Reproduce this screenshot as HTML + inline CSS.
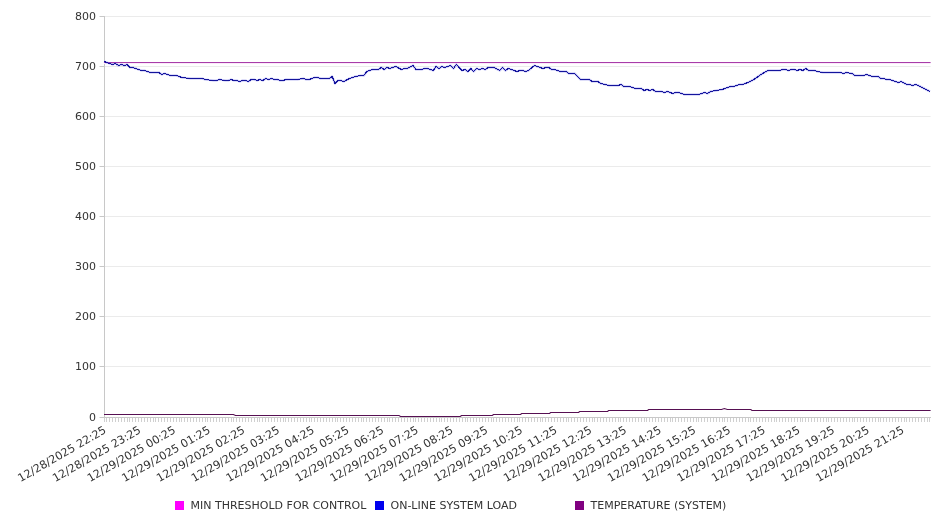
<!DOCTYPE html>
<html><head><meta charset="utf-8"><style>
html,body{margin:0;padding:0;background:#fff;width:946px;height:526px;overflow:hidden}
svg{display:block;will-change:transform}
.t{font-family:"DejaVu Sans","Liberation Sans",sans-serif;font-size:11px;fill:#333}
</style></head><body>

<svg width="946" height="526" viewBox="0 0 946 526">
<rect width="946" height="526" fill="#fff"/>
<line x1="104" y1="16.5" x2="930.6" y2="16.5" stroke="#ebebeb" stroke-width="1"/>
<line x1="104" y1="66.5" x2="930.6" y2="66.5" stroke="#ebebeb" stroke-width="1"/>
<line x1="104" y1="116.5" x2="930.6" y2="116.5" stroke="#ebebeb" stroke-width="1"/>
<line x1="104" y1="166.5" x2="930.6" y2="166.5" stroke="#ebebeb" stroke-width="1"/>
<line x1="104" y1="216.5" x2="930.6" y2="216.5" stroke="#ebebeb" stroke-width="1"/>
<line x1="104" y1="266.5" x2="930.6" y2="266.5" stroke="#ebebeb" stroke-width="1"/>
<line x1="104" y1="316.5" x2="930.6" y2="316.5" stroke="#ebebeb" stroke-width="1"/>
<line x1="104" y1="366.5" x2="930.6" y2="366.5" stroke="#ebebeb" stroke-width="1"/>
<line x1="99.5" y1="16.5" x2="104" y2="16.5" stroke="#c8c8c8" stroke-width="1"/>
<line x1="99.5" y1="66.5" x2="104" y2="66.5" stroke="#c8c8c8" stroke-width="1"/>
<line x1="99.5" y1="116.5" x2="104" y2="116.5" stroke="#c8c8c8" stroke-width="1"/>
<line x1="99.5" y1="166.5" x2="104" y2="166.5" stroke="#c8c8c8" stroke-width="1"/>
<line x1="99.5" y1="216.5" x2="104" y2="216.5" stroke="#c8c8c8" stroke-width="1"/>
<line x1="99.5" y1="266.5" x2="104" y2="266.5" stroke="#c8c8c8" stroke-width="1"/>
<line x1="99.5" y1="316.5" x2="104" y2="316.5" stroke="#c8c8c8" stroke-width="1"/>
<line x1="99.5" y1="366.5" x2="104" y2="366.5" stroke="#c8c8c8" stroke-width="1"/>
<line x1="99.5" y1="417.5" x2="104" y2="417.5" stroke="#c8c8c8" stroke-width="1"/>
<line x1="104.5" y1="16" x2="104.5" y2="418" stroke="#c8c8c8" stroke-width="1"/>
<line x1="104" y1="417.5" x2="931" y2="417.5" stroke="#c8c8c8" stroke-width="1"/>
<line x1="104.5" y1="418" x2="104.5" y2="422" stroke="#d0d0d0" stroke-width="1"/>
<line x1="106.5" y1="418" x2="106.5" y2="422" stroke="#d0d0d0" stroke-width="1"/>
<line x1="109.5" y1="418" x2="109.5" y2="422" stroke="#d0d0d0" stroke-width="1"/>
<line x1="112.5" y1="418" x2="112.5" y2="422" stroke="#d0d0d0" stroke-width="1"/>
<line x1="115.5" y1="418" x2="115.5" y2="422" stroke="#d0d0d0" stroke-width="1"/>
<line x1="118.5" y1="418" x2="118.5" y2="422" stroke="#d0d0d0" stroke-width="1"/>
<line x1="121.5" y1="418" x2="121.5" y2="422" stroke="#d0d0d0" stroke-width="1"/>
<line x1="124.5" y1="418" x2="124.5" y2="422" stroke="#d0d0d0" stroke-width="1"/>
<line x1="127.5" y1="418" x2="127.5" y2="422" stroke="#d0d0d0" stroke-width="1"/>
<line x1="129.5" y1="418" x2="129.5" y2="422" stroke="#d0d0d0" stroke-width="1"/>
<line x1="132.5" y1="418" x2="132.5" y2="422" stroke="#d0d0d0" stroke-width="1"/>
<line x1="135.5" y1="418" x2="135.5" y2="422" stroke="#d0d0d0" stroke-width="1"/>
<line x1="138.5" y1="418" x2="138.5" y2="422" stroke="#d0d0d0" stroke-width="1"/>
<line x1="141.5" y1="418" x2="141.5" y2="422" stroke="#d0d0d0" stroke-width="1"/>
<line x1="144.5" y1="418" x2="144.5" y2="422" stroke="#d0d0d0" stroke-width="1"/>
<line x1="147.5" y1="418" x2="147.5" y2="422" stroke="#d0d0d0" stroke-width="1"/>
<line x1="150.5" y1="418" x2="150.5" y2="422" stroke="#d0d0d0" stroke-width="1"/>
<line x1="153.5" y1="418" x2="153.5" y2="422" stroke="#d0d0d0" stroke-width="1"/>
<line x1="155.5" y1="418" x2="155.5" y2="422" stroke="#d0d0d0" stroke-width="1"/>
<line x1="158.5" y1="418" x2="158.5" y2="422" stroke="#d0d0d0" stroke-width="1"/>
<line x1="161.5" y1="418" x2="161.5" y2="422" stroke="#d0d0d0" stroke-width="1"/>
<line x1="164.5" y1="418" x2="164.5" y2="422" stroke="#d0d0d0" stroke-width="1"/>
<line x1="167.5" y1="418" x2="167.5" y2="422" stroke="#d0d0d0" stroke-width="1"/>
<line x1="170.5" y1="418" x2="170.5" y2="422" stroke="#d0d0d0" stroke-width="1"/>
<line x1="173.5" y1="418" x2="173.5" y2="422" stroke="#d0d0d0" stroke-width="1"/>
<line x1="176.5" y1="418" x2="176.5" y2="422" stroke="#d0d0d0" stroke-width="1"/>
<line x1="179.5" y1="418" x2="179.5" y2="422" stroke="#d0d0d0" stroke-width="1"/>
<line x1="181.5" y1="418" x2="181.5" y2="422" stroke="#d0d0d0" stroke-width="1"/>
<line x1="184.5" y1="418" x2="184.5" y2="422" stroke="#d0d0d0" stroke-width="1"/>
<line x1="187.5" y1="418" x2="187.5" y2="422" stroke="#d0d0d0" stroke-width="1"/>
<line x1="190.5" y1="418" x2="190.5" y2="422" stroke="#d0d0d0" stroke-width="1"/>
<line x1="193.5" y1="418" x2="193.5" y2="422" stroke="#d0d0d0" stroke-width="1"/>
<line x1="196.5" y1="418" x2="196.5" y2="422" stroke="#d0d0d0" stroke-width="1"/>
<line x1="199.5" y1="418" x2="199.5" y2="422" stroke="#d0d0d0" stroke-width="1"/>
<line x1="202.5" y1="418" x2="202.5" y2="422" stroke="#d0d0d0" stroke-width="1"/>
<line x1="205.5" y1="418" x2="205.5" y2="422" stroke="#d0d0d0" stroke-width="1"/>
<line x1="207.5" y1="418" x2="207.5" y2="422" stroke="#d0d0d0" stroke-width="1"/>
<line x1="210.5" y1="418" x2="210.5" y2="422" stroke="#d0d0d0" stroke-width="1"/>
<line x1="213.5" y1="418" x2="213.5" y2="422" stroke="#d0d0d0" stroke-width="1"/>
<line x1="216.5" y1="418" x2="216.5" y2="422" stroke="#d0d0d0" stroke-width="1"/>
<line x1="219.5" y1="418" x2="219.5" y2="422" stroke="#d0d0d0" stroke-width="1"/>
<line x1="222.5" y1="418" x2="222.5" y2="422" stroke="#d0d0d0" stroke-width="1"/>
<line x1="225.5" y1="418" x2="225.5" y2="422" stroke="#d0d0d0" stroke-width="1"/>
<line x1="228.5" y1="418" x2="228.5" y2="422" stroke="#d0d0d0" stroke-width="1"/>
<line x1="231.5" y1="418" x2="231.5" y2="422" stroke="#d0d0d0" stroke-width="1"/>
<line x1="233.5" y1="418" x2="233.5" y2="422" stroke="#d0d0d0" stroke-width="1"/>
<line x1="236.5" y1="418" x2="236.5" y2="422" stroke="#d0d0d0" stroke-width="1"/>
<line x1="239.5" y1="418" x2="239.5" y2="422" stroke="#d0d0d0" stroke-width="1"/>
<line x1="242.5" y1="418" x2="242.5" y2="422" stroke="#d0d0d0" stroke-width="1"/>
<line x1="245.5" y1="418" x2="245.5" y2="422" stroke="#d0d0d0" stroke-width="1"/>
<line x1="248.5" y1="418" x2="248.5" y2="422" stroke="#d0d0d0" stroke-width="1"/>
<line x1="251.5" y1="418" x2="251.5" y2="422" stroke="#d0d0d0" stroke-width="1"/>
<line x1="254.5" y1="418" x2="254.5" y2="422" stroke="#d0d0d0" stroke-width="1"/>
<line x1="257.5" y1="418" x2="257.5" y2="422" stroke="#d0d0d0" stroke-width="1"/>
<line x1="259.5" y1="418" x2="259.5" y2="422" stroke="#d0d0d0" stroke-width="1"/>
<line x1="262.5" y1="418" x2="262.5" y2="422" stroke="#d0d0d0" stroke-width="1"/>
<line x1="265.5" y1="418" x2="265.5" y2="422" stroke="#d0d0d0" stroke-width="1"/>
<line x1="268.5" y1="418" x2="268.5" y2="422" stroke="#d0d0d0" stroke-width="1"/>
<line x1="271.5" y1="418" x2="271.5" y2="422" stroke="#d0d0d0" stroke-width="1"/>
<line x1="274.5" y1="418" x2="274.5" y2="422" stroke="#d0d0d0" stroke-width="1"/>
<line x1="277.5" y1="418" x2="277.5" y2="422" stroke="#d0d0d0" stroke-width="1"/>
<line x1="280.5" y1="418" x2="280.5" y2="422" stroke="#d0d0d0" stroke-width="1"/>
<line x1="283.5" y1="418" x2="283.5" y2="422" stroke="#d0d0d0" stroke-width="1"/>
<line x1="285.5" y1="418" x2="285.5" y2="422" stroke="#d0d0d0" stroke-width="1"/>
<line x1="288.5" y1="418" x2="288.5" y2="422" stroke="#d0d0d0" stroke-width="1"/>
<line x1="291.5" y1="418" x2="291.5" y2="422" stroke="#d0d0d0" stroke-width="1"/>
<line x1="294.5" y1="418" x2="294.5" y2="422" stroke="#d0d0d0" stroke-width="1"/>
<line x1="297.5" y1="418" x2="297.5" y2="422" stroke="#d0d0d0" stroke-width="1"/>
<line x1="300.5" y1="418" x2="300.5" y2="422" stroke="#d0d0d0" stroke-width="1"/>
<line x1="303.5" y1="418" x2="303.5" y2="422" stroke="#d0d0d0" stroke-width="1"/>
<line x1="306.5" y1="418" x2="306.5" y2="422" stroke="#d0d0d0" stroke-width="1"/>
<line x1="309.5" y1="418" x2="309.5" y2="422" stroke="#d0d0d0" stroke-width="1"/>
<line x1="311.5" y1="418" x2="311.5" y2="422" stroke="#d0d0d0" stroke-width="1"/>
<line x1="314.5" y1="418" x2="314.5" y2="422" stroke="#d0d0d0" stroke-width="1"/>
<line x1="317.5" y1="418" x2="317.5" y2="422" stroke="#d0d0d0" stroke-width="1"/>
<line x1="320.5" y1="418" x2="320.5" y2="422" stroke="#d0d0d0" stroke-width="1"/>
<line x1="323.5" y1="418" x2="323.5" y2="422" stroke="#d0d0d0" stroke-width="1"/>
<line x1="326.5" y1="418" x2="326.5" y2="422" stroke="#d0d0d0" stroke-width="1"/>
<line x1="329.5" y1="418" x2="329.5" y2="422" stroke="#d0d0d0" stroke-width="1"/>
<line x1="332.5" y1="418" x2="332.5" y2="422" stroke="#d0d0d0" stroke-width="1"/>
<line x1="335.5" y1="418" x2="335.5" y2="422" stroke="#d0d0d0" stroke-width="1"/>
<line x1="337.5" y1="418" x2="337.5" y2="422" stroke="#d0d0d0" stroke-width="1"/>
<line x1="340.5" y1="418" x2="340.5" y2="422" stroke="#d0d0d0" stroke-width="1"/>
<line x1="343.5" y1="418" x2="343.5" y2="422" stroke="#d0d0d0" stroke-width="1"/>
<line x1="346.5" y1="418" x2="346.5" y2="422" stroke="#d0d0d0" stroke-width="1"/>
<line x1="349.5" y1="418" x2="349.5" y2="422" stroke="#d0d0d0" stroke-width="1"/>
<line x1="352.5" y1="418" x2="352.5" y2="422" stroke="#d0d0d0" stroke-width="1"/>
<line x1="355.5" y1="418" x2="355.5" y2="422" stroke="#d0d0d0" stroke-width="1"/>
<line x1="358.5" y1="418" x2="358.5" y2="422" stroke="#d0d0d0" stroke-width="1"/>
<line x1="361.5" y1="418" x2="361.5" y2="422" stroke="#d0d0d0" stroke-width="1"/>
<line x1="363.5" y1="418" x2="363.5" y2="422" stroke="#d0d0d0" stroke-width="1"/>
<line x1="366.5" y1="418" x2="366.5" y2="422" stroke="#d0d0d0" stroke-width="1"/>
<line x1="369.5" y1="418" x2="369.5" y2="422" stroke="#d0d0d0" stroke-width="1"/>
<line x1="372.5" y1="418" x2="372.5" y2="422" stroke="#d0d0d0" stroke-width="1"/>
<line x1="375.5" y1="418" x2="375.5" y2="422" stroke="#d0d0d0" stroke-width="1"/>
<line x1="378.5" y1="418" x2="378.5" y2="422" stroke="#d0d0d0" stroke-width="1"/>
<line x1="381.5" y1="418" x2="381.5" y2="422" stroke="#d0d0d0" stroke-width="1"/>
<line x1="384.5" y1="418" x2="384.5" y2="422" stroke="#d0d0d0" stroke-width="1"/>
<line x1="387.5" y1="418" x2="387.5" y2="422" stroke="#d0d0d0" stroke-width="1"/>
<line x1="389.5" y1="418" x2="389.5" y2="422" stroke="#d0d0d0" stroke-width="1"/>
<line x1="392.5" y1="418" x2="392.5" y2="422" stroke="#d0d0d0" stroke-width="1"/>
<line x1="395.5" y1="418" x2="395.5" y2="422" stroke="#d0d0d0" stroke-width="1"/>
<line x1="398.5" y1="418" x2="398.5" y2="422" stroke="#d0d0d0" stroke-width="1"/>
<line x1="401.5" y1="418" x2="401.5" y2="422" stroke="#d0d0d0" stroke-width="1"/>
<line x1="404.5" y1="418" x2="404.5" y2="422" stroke="#d0d0d0" stroke-width="1"/>
<line x1="407.5" y1="418" x2="407.5" y2="422" stroke="#d0d0d0" stroke-width="1"/>
<line x1="410.5" y1="418" x2="410.5" y2="422" stroke="#d0d0d0" stroke-width="1"/>
<line x1="413.5" y1="418" x2="413.5" y2="422" stroke="#d0d0d0" stroke-width="1"/>
<line x1="415.5" y1="418" x2="415.5" y2="422" stroke="#d0d0d0" stroke-width="1"/>
<line x1="418.5" y1="418" x2="418.5" y2="422" stroke="#d0d0d0" stroke-width="1"/>
<line x1="421.5" y1="418" x2="421.5" y2="422" stroke="#d0d0d0" stroke-width="1"/>
<line x1="424.5" y1="418" x2="424.5" y2="422" stroke="#d0d0d0" stroke-width="1"/>
<line x1="427.5" y1="418" x2="427.5" y2="422" stroke="#d0d0d0" stroke-width="1"/>
<line x1="430.5" y1="418" x2="430.5" y2="422" stroke="#d0d0d0" stroke-width="1"/>
<line x1="433.5" y1="418" x2="433.5" y2="422" stroke="#d0d0d0" stroke-width="1"/>
<line x1="436.5" y1="418" x2="436.5" y2="422" stroke="#d0d0d0" stroke-width="1"/>
<line x1="439.5" y1="418" x2="439.5" y2="422" stroke="#d0d0d0" stroke-width="1"/>
<line x1="441.5" y1="418" x2="441.5" y2="422" stroke="#d0d0d0" stroke-width="1"/>
<line x1="444.5" y1="418" x2="444.5" y2="422" stroke="#d0d0d0" stroke-width="1"/>
<line x1="447.5" y1="418" x2="447.5" y2="422" stroke="#d0d0d0" stroke-width="1"/>
<line x1="450.5" y1="418" x2="450.5" y2="422" stroke="#d0d0d0" stroke-width="1"/>
<line x1="453.5" y1="418" x2="453.5" y2="422" stroke="#d0d0d0" stroke-width="1"/>
<line x1="456.5" y1="418" x2="456.5" y2="422" stroke="#d0d0d0" stroke-width="1"/>
<line x1="459.5" y1="418" x2="459.5" y2="422" stroke="#d0d0d0" stroke-width="1"/>
<line x1="462.5" y1="418" x2="462.5" y2="422" stroke="#d0d0d0" stroke-width="1"/>
<line x1="465.5" y1="418" x2="465.5" y2="422" stroke="#d0d0d0" stroke-width="1"/>
<line x1="467.5" y1="418" x2="467.5" y2="422" stroke="#d0d0d0" stroke-width="1"/>
<line x1="470.5" y1="418" x2="470.5" y2="422" stroke="#d0d0d0" stroke-width="1"/>
<line x1="473.5" y1="418" x2="473.5" y2="422" stroke="#d0d0d0" stroke-width="1"/>
<line x1="476.5" y1="418" x2="476.5" y2="422" stroke="#d0d0d0" stroke-width="1"/>
<line x1="479.5" y1="418" x2="479.5" y2="422" stroke="#d0d0d0" stroke-width="1"/>
<line x1="482.5" y1="418" x2="482.5" y2="422" stroke="#d0d0d0" stroke-width="1"/>
<line x1="485.5" y1="418" x2="485.5" y2="422" stroke="#d0d0d0" stroke-width="1"/>
<line x1="488.5" y1="418" x2="488.5" y2="422" stroke="#d0d0d0" stroke-width="1"/>
<line x1="491.5" y1="418" x2="491.5" y2="422" stroke="#d0d0d0" stroke-width="1"/>
<line x1="493.5" y1="418" x2="493.5" y2="422" stroke="#d0d0d0" stroke-width="1"/>
<line x1="496.5" y1="418" x2="496.5" y2="422" stroke="#d0d0d0" stroke-width="1"/>
<line x1="499.5" y1="418" x2="499.5" y2="422" stroke="#d0d0d0" stroke-width="1"/>
<line x1="502.5" y1="418" x2="502.5" y2="422" stroke="#d0d0d0" stroke-width="1"/>
<line x1="505.5" y1="418" x2="505.5" y2="422" stroke="#d0d0d0" stroke-width="1"/>
<line x1="508.5" y1="418" x2="508.5" y2="422" stroke="#d0d0d0" stroke-width="1"/>
<line x1="511.5" y1="418" x2="511.5" y2="422" stroke="#d0d0d0" stroke-width="1"/>
<line x1="514.5" y1="418" x2="514.5" y2="422" stroke="#d0d0d0" stroke-width="1"/>
<line x1="517.5" y1="418" x2="517.5" y2="422" stroke="#d0d0d0" stroke-width="1"/>
<line x1="519.5" y1="418" x2="519.5" y2="422" stroke="#d0d0d0" stroke-width="1"/>
<line x1="522.5" y1="418" x2="522.5" y2="422" stroke="#d0d0d0" stroke-width="1"/>
<line x1="525.5" y1="418" x2="525.5" y2="422" stroke="#d0d0d0" stroke-width="1"/>
<line x1="528.5" y1="418" x2="528.5" y2="422" stroke="#d0d0d0" stroke-width="1"/>
<line x1="531.5" y1="418" x2="531.5" y2="422" stroke="#d0d0d0" stroke-width="1"/>
<line x1="534.5" y1="418" x2="534.5" y2="422" stroke="#d0d0d0" stroke-width="1"/>
<line x1="537.5" y1="418" x2="537.5" y2="422" stroke="#d0d0d0" stroke-width="1"/>
<line x1="540.5" y1="418" x2="540.5" y2="422" stroke="#d0d0d0" stroke-width="1"/>
<line x1="542.5" y1="418" x2="542.5" y2="422" stroke="#d0d0d0" stroke-width="1"/>
<line x1="545.5" y1="418" x2="545.5" y2="422" stroke="#d0d0d0" stroke-width="1"/>
<line x1="548.5" y1="418" x2="548.5" y2="422" stroke="#d0d0d0" stroke-width="1"/>
<line x1="551.5" y1="418" x2="551.5" y2="422" stroke="#d0d0d0" stroke-width="1"/>
<line x1="554.5" y1="418" x2="554.5" y2="422" stroke="#d0d0d0" stroke-width="1"/>
<line x1="557.5" y1="418" x2="557.5" y2="422" stroke="#d0d0d0" stroke-width="1"/>
<line x1="560.5" y1="418" x2="560.5" y2="422" stroke="#d0d0d0" stroke-width="1"/>
<line x1="563.5" y1="418" x2="563.5" y2="422" stroke="#d0d0d0" stroke-width="1"/>
<line x1="566.5" y1="418" x2="566.5" y2="422" stroke="#d0d0d0" stroke-width="1"/>
<line x1="568.5" y1="418" x2="568.5" y2="422" stroke="#d0d0d0" stroke-width="1"/>
<line x1="571.5" y1="418" x2="571.5" y2="422" stroke="#d0d0d0" stroke-width="1"/>
<line x1="574.5" y1="418" x2="574.5" y2="422" stroke="#d0d0d0" stroke-width="1"/>
<line x1="577.5" y1="418" x2="577.5" y2="422" stroke="#d0d0d0" stroke-width="1"/>
<line x1="580.5" y1="418" x2="580.5" y2="422" stroke="#d0d0d0" stroke-width="1"/>
<line x1="583.5" y1="418" x2="583.5" y2="422" stroke="#d0d0d0" stroke-width="1"/>
<line x1="586.5" y1="418" x2="586.5" y2="422" stroke="#d0d0d0" stroke-width="1"/>
<line x1="589.5" y1="418" x2="589.5" y2="422" stroke="#d0d0d0" stroke-width="1"/>
<line x1="592.5" y1="418" x2="592.5" y2="422" stroke="#d0d0d0" stroke-width="1"/>
<line x1="594.5" y1="418" x2="594.5" y2="422" stroke="#d0d0d0" stroke-width="1"/>
<line x1="597.5" y1="418" x2="597.5" y2="422" stroke="#d0d0d0" stroke-width="1"/>
<line x1="600.5" y1="418" x2="600.5" y2="422" stroke="#d0d0d0" stroke-width="1"/>
<line x1="603.5" y1="418" x2="603.5" y2="422" stroke="#d0d0d0" stroke-width="1"/>
<line x1="606.5" y1="418" x2="606.5" y2="422" stroke="#d0d0d0" stroke-width="1"/>
<line x1="609.5" y1="418" x2="609.5" y2="422" stroke="#d0d0d0" stroke-width="1"/>
<line x1="612.5" y1="418" x2="612.5" y2="422" stroke="#d0d0d0" stroke-width="1"/>
<line x1="615.5" y1="418" x2="615.5" y2="422" stroke="#d0d0d0" stroke-width="1"/>
<line x1="618.5" y1="418" x2="618.5" y2="422" stroke="#d0d0d0" stroke-width="1"/>
<line x1="620.5" y1="418" x2="620.5" y2="422" stroke="#d0d0d0" stroke-width="1"/>
<line x1="623.5" y1="418" x2="623.5" y2="422" stroke="#d0d0d0" stroke-width="1"/>
<line x1="626.5" y1="418" x2="626.5" y2="422" stroke="#d0d0d0" stroke-width="1"/>
<line x1="629.5" y1="418" x2="629.5" y2="422" stroke="#d0d0d0" stroke-width="1"/>
<line x1="632.5" y1="418" x2="632.5" y2="422" stroke="#d0d0d0" stroke-width="1"/>
<line x1="635.5" y1="418" x2="635.5" y2="422" stroke="#d0d0d0" stroke-width="1"/>
<line x1="638.5" y1="418" x2="638.5" y2="422" stroke="#d0d0d0" stroke-width="1"/>
<line x1="641.5" y1="418" x2="641.5" y2="422" stroke="#d0d0d0" stroke-width="1"/>
<line x1="644.5" y1="418" x2="644.5" y2="422" stroke="#d0d0d0" stroke-width="1"/>
<line x1="646.5" y1="418" x2="646.5" y2="422" stroke="#d0d0d0" stroke-width="1"/>
<line x1="649.5" y1="418" x2="649.5" y2="422" stroke="#d0d0d0" stroke-width="1"/>
<line x1="652.5" y1="418" x2="652.5" y2="422" stroke="#d0d0d0" stroke-width="1"/>
<line x1="655.5" y1="418" x2="655.5" y2="422" stroke="#d0d0d0" stroke-width="1"/>
<line x1="658.5" y1="418" x2="658.5" y2="422" stroke="#d0d0d0" stroke-width="1"/>
<line x1="661.5" y1="418" x2="661.5" y2="422" stroke="#d0d0d0" stroke-width="1"/>
<line x1="664.5" y1="418" x2="664.5" y2="422" stroke="#d0d0d0" stroke-width="1"/>
<line x1="667.5" y1="418" x2="667.5" y2="422" stroke="#d0d0d0" stroke-width="1"/>
<line x1="670.5" y1="418" x2="670.5" y2="422" stroke="#d0d0d0" stroke-width="1"/>
<line x1="672.5" y1="418" x2="672.5" y2="422" stroke="#d0d0d0" stroke-width="1"/>
<line x1="675.5" y1="418" x2="675.5" y2="422" stroke="#d0d0d0" stroke-width="1"/>
<line x1="678.5" y1="418" x2="678.5" y2="422" stroke="#d0d0d0" stroke-width="1"/>
<line x1="681.5" y1="418" x2="681.5" y2="422" stroke="#d0d0d0" stroke-width="1"/>
<line x1="684.5" y1="418" x2="684.5" y2="422" stroke="#d0d0d0" stroke-width="1"/>
<line x1="687.5" y1="418" x2="687.5" y2="422" stroke="#d0d0d0" stroke-width="1"/>
<line x1="690.5" y1="418" x2="690.5" y2="422" stroke="#d0d0d0" stroke-width="1"/>
<line x1="693.5" y1="418" x2="693.5" y2="422" stroke="#d0d0d0" stroke-width="1"/>
<line x1="696.5" y1="418" x2="696.5" y2="422" stroke="#d0d0d0" stroke-width="1"/>
<line x1="698.5" y1="418" x2="698.5" y2="422" stroke="#d0d0d0" stroke-width="1"/>
<line x1="701.5" y1="418" x2="701.5" y2="422" stroke="#d0d0d0" stroke-width="1"/>
<line x1="704.5" y1="418" x2="704.5" y2="422" stroke="#d0d0d0" stroke-width="1"/>
<line x1="707.5" y1="418" x2="707.5" y2="422" stroke="#d0d0d0" stroke-width="1"/>
<line x1="710.5" y1="418" x2="710.5" y2="422" stroke="#d0d0d0" stroke-width="1"/>
<line x1="713.5" y1="418" x2="713.5" y2="422" stroke="#d0d0d0" stroke-width="1"/>
<line x1="716.5" y1="418" x2="716.5" y2="422" stroke="#d0d0d0" stroke-width="1"/>
<line x1="719.5" y1="418" x2="719.5" y2="422" stroke="#d0d0d0" stroke-width="1"/>
<line x1="722.5" y1="418" x2="722.5" y2="422" stroke="#d0d0d0" stroke-width="1"/>
<line x1="724.5" y1="418" x2="724.5" y2="422" stroke="#d0d0d0" stroke-width="1"/>
<line x1="727.5" y1="418" x2="727.5" y2="422" stroke="#d0d0d0" stroke-width="1"/>
<line x1="730.5" y1="418" x2="730.5" y2="422" stroke="#d0d0d0" stroke-width="1"/>
<line x1="733.5" y1="418" x2="733.5" y2="422" stroke="#d0d0d0" stroke-width="1"/>
<line x1="736.5" y1="418" x2="736.5" y2="422" stroke="#d0d0d0" stroke-width="1"/>
<line x1="739.5" y1="418" x2="739.5" y2="422" stroke="#d0d0d0" stroke-width="1"/>
<line x1="742.5" y1="418" x2="742.5" y2="422" stroke="#d0d0d0" stroke-width="1"/>
<line x1="745.5" y1="418" x2="745.5" y2="422" stroke="#d0d0d0" stroke-width="1"/>
<line x1="748.5" y1="418" x2="748.5" y2="422" stroke="#d0d0d0" stroke-width="1"/>
<line x1="750.5" y1="418" x2="750.5" y2="422" stroke="#d0d0d0" stroke-width="1"/>
<line x1="753.5" y1="418" x2="753.5" y2="422" stroke="#d0d0d0" stroke-width="1"/>
<line x1="756.5" y1="418" x2="756.5" y2="422" stroke="#d0d0d0" stroke-width="1"/>
<line x1="759.5" y1="418" x2="759.5" y2="422" stroke="#d0d0d0" stroke-width="1"/>
<line x1="762.5" y1="418" x2="762.5" y2="422" stroke="#d0d0d0" stroke-width="1"/>
<line x1="765.5" y1="418" x2="765.5" y2="422" stroke="#d0d0d0" stroke-width="1"/>
<line x1="768.5" y1="418" x2="768.5" y2="422" stroke="#d0d0d0" stroke-width="1"/>
<line x1="771.5" y1="418" x2="771.5" y2="422" stroke="#d0d0d0" stroke-width="1"/>
<line x1="774.5" y1="418" x2="774.5" y2="422" stroke="#d0d0d0" stroke-width="1"/>
<line x1="776.5" y1="418" x2="776.5" y2="422" stroke="#d0d0d0" stroke-width="1"/>
<line x1="779.5" y1="418" x2="779.5" y2="422" stroke="#d0d0d0" stroke-width="1"/>
<line x1="782.5" y1="418" x2="782.5" y2="422" stroke="#d0d0d0" stroke-width="1"/>
<line x1="785.5" y1="418" x2="785.5" y2="422" stroke="#d0d0d0" stroke-width="1"/>
<line x1="788.5" y1="418" x2="788.5" y2="422" stroke="#d0d0d0" stroke-width="1"/>
<line x1="791.5" y1="418" x2="791.5" y2="422" stroke="#d0d0d0" stroke-width="1"/>
<line x1="794.5" y1="418" x2="794.5" y2="422" stroke="#d0d0d0" stroke-width="1"/>
<line x1="797.5" y1="418" x2="797.5" y2="422" stroke="#d0d0d0" stroke-width="1"/>
<line x1="800.5" y1="418" x2="800.5" y2="422" stroke="#d0d0d0" stroke-width="1"/>
<line x1="802.5" y1="418" x2="802.5" y2="422" stroke="#d0d0d0" stroke-width="1"/>
<line x1="805.5" y1="418" x2="805.5" y2="422" stroke="#d0d0d0" stroke-width="1"/>
<line x1="808.5" y1="418" x2="808.5" y2="422" stroke="#d0d0d0" stroke-width="1"/>
<line x1="811.5" y1="418" x2="811.5" y2="422" stroke="#d0d0d0" stroke-width="1"/>
<line x1="814.5" y1="418" x2="814.5" y2="422" stroke="#d0d0d0" stroke-width="1"/>
<line x1="817.5" y1="418" x2="817.5" y2="422" stroke="#d0d0d0" stroke-width="1"/>
<line x1="820.5" y1="418" x2="820.5" y2="422" stroke="#d0d0d0" stroke-width="1"/>
<line x1="823.5" y1="418" x2="823.5" y2="422" stroke="#d0d0d0" stroke-width="1"/>
<line x1="826.5" y1="418" x2="826.5" y2="422" stroke="#d0d0d0" stroke-width="1"/>
<line x1="828.5" y1="418" x2="828.5" y2="422" stroke="#d0d0d0" stroke-width="1"/>
<line x1="831.5" y1="418" x2="831.5" y2="422" stroke="#d0d0d0" stroke-width="1"/>
<line x1="834.5" y1="418" x2="834.5" y2="422" stroke="#d0d0d0" stroke-width="1"/>
<line x1="837.5" y1="418" x2="837.5" y2="422" stroke="#d0d0d0" stroke-width="1"/>
<line x1="840.5" y1="418" x2="840.5" y2="422" stroke="#d0d0d0" stroke-width="1"/>
<line x1="843.5" y1="418" x2="843.5" y2="422" stroke="#d0d0d0" stroke-width="1"/>
<line x1="846.5" y1="418" x2="846.5" y2="422" stroke="#d0d0d0" stroke-width="1"/>
<line x1="849.5" y1="418" x2="849.5" y2="422" stroke="#d0d0d0" stroke-width="1"/>
<line x1="852.5" y1="418" x2="852.5" y2="422" stroke="#d0d0d0" stroke-width="1"/>
<line x1="854.5" y1="418" x2="854.5" y2="422" stroke="#d0d0d0" stroke-width="1"/>
<line x1="857.5" y1="418" x2="857.5" y2="422" stroke="#d0d0d0" stroke-width="1"/>
<line x1="860.5" y1="418" x2="860.5" y2="422" stroke="#d0d0d0" stroke-width="1"/>
<line x1="863.5" y1="418" x2="863.5" y2="422" stroke="#d0d0d0" stroke-width="1"/>
<line x1="866.5" y1="418" x2="866.5" y2="422" stroke="#d0d0d0" stroke-width="1"/>
<line x1="869.5" y1="418" x2="869.5" y2="422" stroke="#d0d0d0" stroke-width="1"/>
<line x1="872.5" y1="418" x2="872.5" y2="422" stroke="#d0d0d0" stroke-width="1"/>
<line x1="875.5" y1="418" x2="875.5" y2="422" stroke="#d0d0d0" stroke-width="1"/>
<line x1="878.5" y1="418" x2="878.5" y2="422" stroke="#d0d0d0" stroke-width="1"/>
<line x1="880.5" y1="418" x2="880.5" y2="422" stroke="#d0d0d0" stroke-width="1"/>
<line x1="883.5" y1="418" x2="883.5" y2="422" stroke="#d0d0d0" stroke-width="1"/>
<line x1="886.5" y1="418" x2="886.5" y2="422" stroke="#d0d0d0" stroke-width="1"/>
<line x1="889.5" y1="418" x2="889.5" y2="422" stroke="#d0d0d0" stroke-width="1"/>
<line x1="892.5" y1="418" x2="892.5" y2="422" stroke="#d0d0d0" stroke-width="1"/>
<line x1="895.5" y1="418" x2="895.5" y2="422" stroke="#d0d0d0" stroke-width="1"/>
<line x1="898.5" y1="418" x2="898.5" y2="422" stroke="#d0d0d0" stroke-width="1"/>
<line x1="901.5" y1="418" x2="901.5" y2="422" stroke="#d0d0d0" stroke-width="1"/>
<line x1="904.5" y1="418" x2="904.5" y2="422" stroke="#d0d0d0" stroke-width="1"/>
<line x1="906.5" y1="418" x2="906.5" y2="422" stroke="#d0d0d0" stroke-width="1"/>
<line x1="909.5" y1="418" x2="909.5" y2="422" stroke="#d0d0d0" stroke-width="1"/>
<line x1="912.5" y1="418" x2="912.5" y2="422" stroke="#d0d0d0" stroke-width="1"/>
<line x1="915.5" y1="418" x2="915.5" y2="422" stroke="#d0d0d0" stroke-width="1"/>
<line x1="918.5" y1="418" x2="918.5" y2="422" stroke="#d0d0d0" stroke-width="1"/>
<line x1="921.5" y1="418" x2="921.5" y2="422" stroke="#d0d0d0" stroke-width="1"/>
<line x1="924.5" y1="418" x2="924.5" y2="422" stroke="#d0d0d0" stroke-width="1"/>
<line x1="927.5" y1="418" x2="927.5" y2="422" stroke="#d0d0d0" stroke-width="1"/>
<line x1="929.5" y1="418" x2="929.5" y2="422" stroke="#d0d0d0" stroke-width="1"/>
<text x="96" y="19.6" text-anchor="end" class="t">800</text>
<text x="96" y="69.6" text-anchor="end" class="t">700</text>
<text x="96" y="119.6" text-anchor="end" class="t">600</text>
<text x="96" y="169.6" text-anchor="end" class="t">500</text>
<text x="96" y="219.6" text-anchor="end" class="t">400</text>
<text x="96" y="269.6" text-anchor="end" class="t">300</text>
<text x="96" y="319.6" text-anchor="end" class="t">200</text>
<text x="96" y="369.6" text-anchor="end" class="t">100</text>
<text x="96" y="420.6" text-anchor="end" class="t">0</text>
<text transform="translate(107.00,432.3) rotate(-30)" text-anchor="end" class="t" style="font-size:11.15px">12/28/2025 22:25</text>
<text transform="translate(141.69,432.3) rotate(-30)" text-anchor="end" class="t" style="font-size:11.15px">12/28/2025 23:25</text>
<text transform="translate(176.38,432.3) rotate(-30)" text-anchor="end" class="t" style="font-size:11.15px">12/29/2025 00:25</text>
<text transform="translate(211.07,432.3) rotate(-30)" text-anchor="end" class="t" style="font-size:11.15px">12/29/2025 01:25</text>
<text transform="translate(245.76,432.3) rotate(-30)" text-anchor="end" class="t" style="font-size:11.15px">12/29/2025 02:25</text>
<text transform="translate(280.45,432.3) rotate(-30)" text-anchor="end" class="t" style="font-size:11.15px">12/29/2025 03:25</text>
<text transform="translate(315.14,432.3) rotate(-30)" text-anchor="end" class="t" style="font-size:11.15px">12/29/2025 04:25</text>
<text transform="translate(349.83,432.3) rotate(-30)" text-anchor="end" class="t" style="font-size:11.15px">12/29/2025 05:25</text>
<text transform="translate(384.52,432.3) rotate(-30)" text-anchor="end" class="t" style="font-size:11.15px">12/29/2025 06:25</text>
<text transform="translate(419.21,432.3) rotate(-30)" text-anchor="end" class="t" style="font-size:11.15px">12/29/2025 07:25</text>
<text transform="translate(453.90,432.3) rotate(-30)" text-anchor="end" class="t" style="font-size:11.15px">12/29/2025 08:25</text>
<text transform="translate(488.59,432.3) rotate(-30)" text-anchor="end" class="t" style="font-size:11.15px">12/29/2025 09:25</text>
<text transform="translate(523.28,432.3) rotate(-30)" text-anchor="end" class="t" style="font-size:11.15px">12/29/2025 10:25</text>
<text transform="translate(557.97,432.3) rotate(-30)" text-anchor="end" class="t" style="font-size:11.15px">12/29/2025 11:25</text>
<text transform="translate(592.66,432.3) rotate(-30)" text-anchor="end" class="t" style="font-size:11.15px">12/29/2025 12:25</text>
<text transform="translate(627.35,432.3) rotate(-30)" text-anchor="end" class="t" style="font-size:11.15px">12/29/2025 13:25</text>
<text transform="translate(662.04,432.3) rotate(-30)" text-anchor="end" class="t" style="font-size:11.15px">12/29/2025 14:25</text>
<text transform="translate(696.73,432.3) rotate(-30)" text-anchor="end" class="t" style="font-size:11.15px">12/29/2025 15:25</text>
<text transform="translate(731.42,432.3) rotate(-30)" text-anchor="end" class="t" style="font-size:11.15px">12/29/2025 16:25</text>
<text transform="translate(766.11,432.3) rotate(-30)" text-anchor="end" class="t" style="font-size:11.15px">12/29/2025 17:25</text>
<text transform="translate(800.80,432.3) rotate(-30)" text-anchor="end" class="t" style="font-size:11.15px">12/29/2025 18:25</text>
<text transform="translate(835.49,432.3) rotate(-30)" text-anchor="end" class="t" style="font-size:11.15px">12/29/2025 19:25</text>
<text transform="translate(870.18,432.3) rotate(-30)" text-anchor="end" class="t" style="font-size:11.15px">12/29/2025 20:25</text>
<text transform="translate(904.87,432.3) rotate(-30)" text-anchor="end" class="t" style="font-size:11.15px">12/29/2025 21:25</text>
<polyline points="104.0,414.5 233.4,414.5 235.5,415.5 399.0,415.5 400.5,416.5 460.3,416.5 461.5,415.5 492.3,415.5 493.5,414.5 520.6,414.5 521.6,413.5 549.6,413.5 550.6,412.5 578.6,412.5 579.6,411.5 607.6,411.5 608.6,410.5 647.6,410.5 648.6,409.5 721.5,409.5 724.4,408.5 727.3,409.5 750.8,409.5 752.0,410.5 930.6,410.5" fill="none" stroke="#560f52" stroke-width="1.1"/>
<line x1="104" y1="63.5" x2="930.6" y2="63.5" stroke="#fbe8fb" stroke-width="1"/>
<line x1="104" y1="62.5" x2="930.6" y2="62.5" stroke="#a83ca8" stroke-width="1.15"/>
<polyline points="104.0,61.5 109.8,63.5 112.7,64.5 115.6,63.5 118.4,65.5 121.3,64.5 124.2,65.5 127.1,64.5 130.0,67.5 132.9,67.5 141.5,70.5 144.4,70.5 150.2,72.5 158.9,72.5 161.8,74.5 164.7,73.5 170.4,75.5 176.2,75.5 182.0,77.5 190.6,78.5 202.2,78.5 205.1,79.5 213.7,80.5 216.6,80.5 219.5,79.5 225.3,80.5 228.2,80.5 231.1,79.5 234.0,80.5 236.9,80.5 239.7,81.5 242.6,80.5 245.5,80.5 248.4,81.5 251.3,79.5 254.2,79.5 257.1,80.5 260.0,79.5 262.8,80.5 265.7,78.5 268.6,79.5 271.5,78.5 274.4,79.5 277.3,79.5 280.2,80.5 283.1,80.5 286.0,79.5 297.5,79.5 303.3,78.5 306.2,79.5 309.1,79.5 314.8,77.5 317.7,77.5 320.6,78.5 329.3,78.5 332.2,76.5 335.0,83.5 337.9,80.5 340.8,80.5 343.7,81.5 349.5,78.5 355.3,76.5 361.0,75.5 363.9,75.5 366.8,71.5 372.6,69.5 378.4,69.5 381.3,67.5 384.1,69.5 387.0,67.5 389.9,68.5 395.7,66.5 401.5,69.5 404.4,68.5 407.3,68.5 413.0,65.5 415.9,69.5 421.7,69.5 424.6,68.5 427.5,68.5 433.2,70.5 436.1,66.5 439.0,68.5 441.9,66.5 444.8,67.5 450.6,65.5 453.5,68.5 456.3,64.5 459.2,67.5 462.1,70.5 465.0,69.5 467.9,71.5 470.8,68.5 473.7,71.5 476.6,68.5 479.5,69.5 482.3,68.5 485.2,69.5 488.1,67.5 493.9,67.5 499.7,70.5 502.6,67.5 505.4,70.5 508.3,68.5 514.1,70.5 517.0,71.5 519.9,70.5 522.8,70.5 525.7,71.5 528.6,70.5 534.3,65.5 537.2,66.5 543.0,68.5 545.9,67.5 548.8,67.5 551.7,69.5 554.5,69.5 560.3,71.5 566.1,71.5 569.0,73.5 574.8,73.5 580.5,79.5 589.2,79.5 592.1,81.5 597.9,81.5 600.8,83.5 609.4,85.5 618.1,85.5 621.0,84.5 623.9,86.5 629.6,86.5 635.4,88.5 641.2,88.5 644.1,90.5 647.0,89.5 649.9,90.5 652.7,89.5 655.6,91.5 661.4,91.5 664.3,92.5 667.2,91.5 673.0,93.5 675.8,92.5 678.7,92.5 684.5,94.5 699.0,94.5 704.7,92.5 707.6,93.5 710.5,91.5 716.3,90.5 722.1,89.5 730.7,86.5 733.6,86.5 739.4,84.5 742.3,84.5 748.0,82.5 753.8,79.5 756.7,77.5 762.5,73.5 768.3,70.5 779.8,70.5 782.7,69.5 785.6,69.5 788.5,70.5 791.4,69.5 794.3,69.5 797.1,70.5 800.0,69.5 802.9,70.5 805.8,68.5 808.7,70.5 814.5,70.5 817.4,71.5 823.1,72.5 840.5,72.5 843.4,73.5 846.2,72.5 852.0,73.5 854.9,75.5 863.6,75.5 866.5,74.5 872.2,76.5 878.0,76.5 880.9,78.5 883.8,78.5 886.7,79.5 889.6,79.5 895.3,81.5 898.2,82.5 901.1,81.5 906.9,84.5 909.8,84.5 912.7,85.5 915.6,84.5 918.4,85.5 924.2,88.5 930.0,91.5" fill="none" stroke="#3a3ad8" stroke-opacity="0.35" stroke-width="2.2" stroke-linejoin="round"/>
<polyline points="104.0,61.5 109.8,63.5 112.7,64.5 115.6,63.5 118.4,65.5 121.3,64.5 124.2,65.5 127.1,64.5 130.0,67.5 132.9,67.5 141.5,70.5 144.4,70.5 150.2,72.5 158.9,72.5 161.8,74.5 164.7,73.5 170.4,75.5 176.2,75.5 182.0,77.5 190.6,78.5 202.2,78.5 205.1,79.5 213.7,80.5 216.6,80.5 219.5,79.5 225.3,80.5 228.2,80.5 231.1,79.5 234.0,80.5 236.9,80.5 239.7,81.5 242.6,80.5 245.5,80.5 248.4,81.5 251.3,79.5 254.2,79.5 257.1,80.5 260.0,79.5 262.8,80.5 265.7,78.5 268.6,79.5 271.5,78.5 274.4,79.5 277.3,79.5 280.2,80.5 283.1,80.5 286.0,79.5 297.5,79.5 303.3,78.5 306.2,79.5 309.1,79.5 314.8,77.5 317.7,77.5 320.6,78.5 329.3,78.5 332.2,76.5 335.0,83.5 337.9,80.5 340.8,80.5 343.7,81.5 349.5,78.5 355.3,76.5 361.0,75.5 363.9,75.5 366.8,71.5 372.6,69.5 378.4,69.5 381.3,67.5 384.1,69.5 387.0,67.5 389.9,68.5 395.7,66.5 401.5,69.5 404.4,68.5 407.3,68.5 413.0,65.5 415.9,69.5 421.7,69.5 424.6,68.5 427.5,68.5 433.2,70.5 436.1,66.5 439.0,68.5 441.9,66.5 444.8,67.5 450.6,65.5 453.5,68.5 456.3,64.5 459.2,67.5 462.1,70.5 465.0,69.5 467.9,71.5 470.8,68.5 473.7,71.5 476.6,68.5 479.5,69.5 482.3,68.5 485.2,69.5 488.1,67.5 493.9,67.5 499.7,70.5 502.6,67.5 505.4,70.5 508.3,68.5 514.1,70.5 517.0,71.5 519.9,70.5 522.8,70.5 525.7,71.5 528.6,70.5 534.3,65.5 537.2,66.5 543.0,68.5 545.9,67.5 548.8,67.5 551.7,69.5 554.5,69.5 560.3,71.5 566.1,71.5 569.0,73.5 574.8,73.5 580.5,79.5 589.2,79.5 592.1,81.5 597.9,81.5 600.8,83.5 609.4,85.5 618.1,85.5 621.0,84.5 623.9,86.5 629.6,86.5 635.4,88.5 641.2,88.5 644.1,90.5 647.0,89.5 649.9,90.5 652.7,89.5 655.6,91.5 661.4,91.5 664.3,92.5 667.2,91.5 673.0,93.5 675.8,92.5 678.7,92.5 684.5,94.5 699.0,94.5 704.7,92.5 707.6,93.5 710.5,91.5 716.3,90.5 722.1,89.5 730.7,86.5 733.6,86.5 739.4,84.5 742.3,84.5 748.0,82.5 753.8,79.5 756.7,77.5 762.5,73.5 768.3,70.5 779.8,70.5 782.7,69.5 785.6,69.5 788.5,70.5 791.4,69.5 794.3,69.5 797.1,70.5 800.0,69.5 802.9,70.5 805.8,68.5 808.7,70.5 814.5,70.5 817.4,71.5 823.1,72.5 840.5,72.5 843.4,73.5 846.2,72.5 852.0,73.5 854.9,75.5 863.6,75.5 866.5,74.5 872.2,76.5 878.0,76.5 880.9,78.5 883.8,78.5 886.7,79.5 889.6,79.5 895.3,81.5 898.2,82.5 901.1,81.5 906.9,84.5 909.8,84.5 912.7,85.5 915.6,84.5 918.4,85.5 924.2,88.5 930.0,91.5" fill="none" stroke="#14149c" stroke-width="1" shape-rendering="crispEdges"/>
<rect x="175" y="501" width="9" height="9" fill="#ff00ff"/>
<text x="190.5" y="508.9" class="t">MIN THRESHOLD FOR CONTROL</text>
<rect x="375" y="501" width="9" height="9" fill="#0000ee"/>
<text x="390.5" y="508.9" class="t">ON-LINE SYSTEM LOAD</text>
<rect x="575" y="501" width="9" height="9" fill="#800080"/>
<text x="590.5" y="508.9" class="t">TEMPERATURE (SYSTEM)</text>
</svg>
</body></html>
